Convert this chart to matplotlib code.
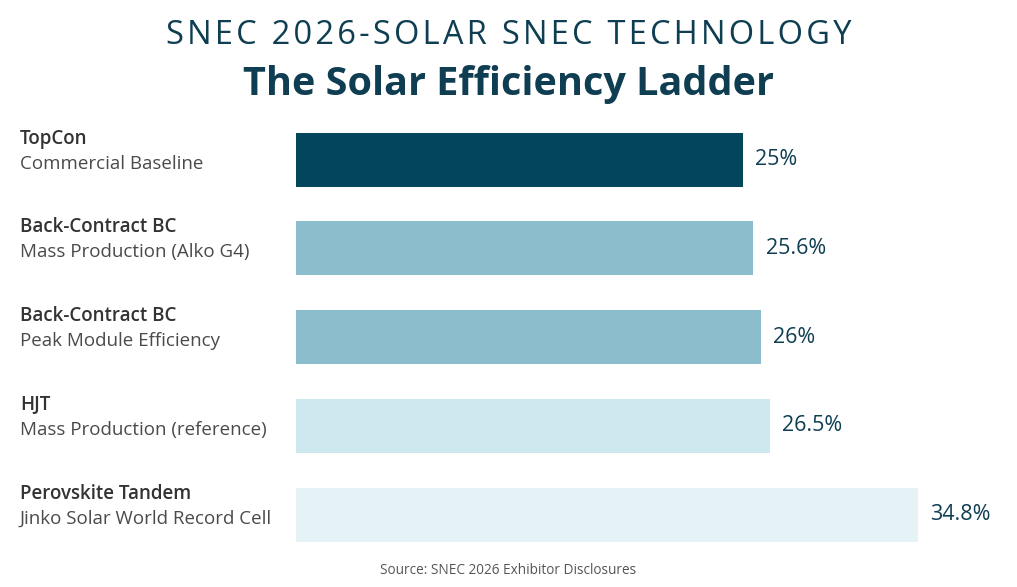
import matplotlib.pyplot as plt

# data
names = ["TopCon", "Back-Contract BC", "Back-Contract BC", "HJT", "Perovskite Tandem"]
notes = ["Commercial Baseline", "Mass Production (Alko G4)", "Peak Module Efficiency",
         "Mass Production (reference)", "Jinko Solar World Record Cell"]
efficiency = [25.0, 25.6, 26.0, 26.5, 34.8]
value_labels = ["25%", "25.6%", "26%", "26.5%", "34.8%"]
bar_colors = ["#03455c", "#8bbdcd", "#8bbdcd", "#cde9ef", "#e6f3f6"]

ink = "#0f3e52"
plt.rcParams['font.family'] = ['Open Sans', 'DejaVu Sans']

W, H = 1017, 587
fig = plt.figure(figsize=(W / 100, H / 100), dpi=100)
fig.patch.set_facecolor("white")

# axes placed in pixel terms: bars start at x=296, centres 160..515
top, bottom = 115.3, 559.0
ax = fig.add_axes([296 / W, 1 - bottom / H, (W - 296) / W, (bottom - top) / H])
ax.set_xlim(0, (W - 296) / 17.87)
ax.set_ylim(len(efficiency) - 0.5, -0.5)
ax.axis("off")

ypos = list(range(len(efficiency)))
ax.barh(ypos, efficiency, height=0.61, color=bar_colors)

for y, v, lab in zip(ypos, efficiency, value_labels):
    ax.annotate(lab, (v, y), xytext=(9, 0), textcoords="offset points",
                va="center", ha="left", fontsize=15.5, color=ink, fontweight="medium")

# category labels on the left
for y, n, s in zip(ypos, names, notes):
    yc = 1 - (top + (y + 0.5) * (bottom - top) / len(efficiency)) / H
    fig.text(20 / W, yc + 21 / H, n, ha="left", va="center", fontsize=13.5,
             fontweight="semibold", color="#333333")
    fig.text(20 / W, yc - 4 / H, s, ha="left", va="center", fontsize=13.5,
             color="#4a4a4a")

# letter-spaced heading
heading = "\u200a".join("SNEC 2026-SOLAR SNEC TECHNOLOGY")
fig.text(0.5, 1 - 35 / H, heading, ha="center", va="center",
         fontsize=23.5, color=ink)
fig.text(0.5, 1 - 85 / H, "The Solar Efficiency Ladder", ha="center", va="center",
         fontsize=28.5, fontweight="bold", color=ink)
fig.text(0.5, 1 - 571 / H, "Source: SNEC 2026 Exhibitor Disclosures", ha="center",
         va="center", fontsize=9.8, color="#555555")

fig.savefig("out.png", dpi=100)
